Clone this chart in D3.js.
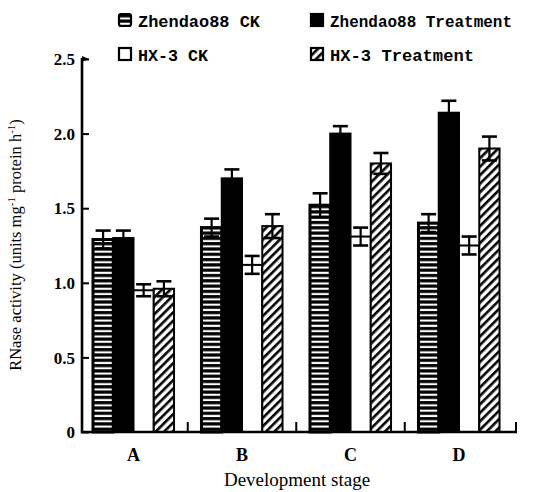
<!DOCTYPE html>
<html>
<head>
<meta charset="utf-8">
<script src="https://cdn.jsdelivr.net/npm/d3@7"></script>
<style>
  html, body { margin: 0; padding: 0; background: #fff; }
  svg { display: block; }
</style>
</head>
<body>
<div id="chart"></div>
<script>
// ---- data ----
const stages = ["A", "B", "C", "D"];
const seriesNames = ["Zhendao88 CK", "Zhendao88 Treatment", "HX-3 CK", "HX-3 Treatment"];
const zhendaoCK = [1.29, 1.37, 1.52, 1.40];
const zhendaoCKErr = [0.06, 0.06, 0.08, 0.06];
const zhendaoTreat = [1.30, 1.70, 2.00, 2.14];
const zhendaoTreatErr = [0.05, 0.06, 0.05, 0.08];
const hxCK = [0.95, 1.12, 1.31, 1.25];
const hxCKErr = [0.04, 0.06, 0.06, 0.06];
const hxTreat = [0.96, 1.38, 1.80, 1.90];
const hxTreatErr = [0.05, 0.08, 0.07, 0.08];
const yTicks = [0, 0.5, 1.0, 1.5, 2.0, 2.5];
const yTickLabels = ["0", "0.5", "1.0", "1.5", "2.0", "2.5"];

const values = [zhendaoCK, zhendaoTreat, hxCK, hxTreat];
const errors = [zhendaoCKErr, zhendaoTreatErr, hxCKErr, hxTreatErr];
const fills = ["url(#stripes)", "#000", "#fff", "url(#hatch)"];

const W = 533, H = 492;
const svg = d3.select("#chart").append("svg").attr("width", W).attr("height", H);

const defs = svg.append("defs");
const st = defs.append("pattern").attr("id", "stripes").attr("patternUnits", "userSpaceOnUse")
  .attr("width", 6).attr("height", 5.3);
st.append("rect").attr("width", 6).attr("height", 5.3).attr("fill", "#000");
st.append("rect").attr("y", 1.5).attr("width", 6).attr("height", 2.1).attr("fill", "#fff");

const ht = defs.append("pattern").attr("id", "hatch").attr("patternUnits", "userSpaceOnUse")
  .attr("width", 6).attr("height", 6).attr("patternTransform", "rotate(45)");
ht.append("rect").attr("width", 6).attr("height", 6).attr("fill", "#fff");
ht.append("rect").attr("x", 0).attr("width", 2.6).attr("height", 6).attr("fill", "#000");

// ---- scales ----
const x0 = 82, x1 = 516, yTop = 59, yBot = 432;
const x = d3.scaleBand().domain(stages).range([x0, x1]).paddingInner(0.253).paddingOuter(0.1265).align(0.4);
const xs = d3.scaleBand().domain(d3.range(4)).range([0, x.bandwidth()]).padding(0);
const y = d3.scaleLinear().domain([0, 2.5]).range([yBot, yTop]);

// ---- bars ----
const g = svg.append("g");
stages.forEach((s, i) => {
  for (let k = 0; k < 4; k++) {
    const v = values[k][i];
    const bx = x(s) + xs(k);
    g.append("rect")
      .attr("x", bx).attr("y", y(v))
      .attr("width", xs.bandwidth()).attr("height", y(0) - y(v))
      .attr("fill", fills[k]).attr("stroke", "#000")
      .attr("stroke-width", k === 0 ? 3 : 2);
  }
});
// error bars
stages.forEach((s, i) => {
  for (let k = 0; k < 4; k++) {
    const v = values[k][i], e = errors[k][i];
    const cx = x(s) + xs(k) + xs.bandwidth() / 2;
    g.append("line").attr("x1", cx).attr("x2", cx).attr("y1", y(v - e)).attr("y2", y(v + e))
      .attr("stroke", "#000").attr("stroke-width", 2.2);
    [v - e, v + e].forEach(t => {
      g.append("line").attr("x1", cx - 7.5).attr("x2", cx + 7.5).attr("y1", y(t)).attr("y2", y(t))
        .attr("stroke", "#000").attr("stroke-width", 2.6);
    });
  }
});

// ---- axes ----
const ax = svg.append("g");
ax.append("line").attr("x1", x0).attr("x2", x0).attr("y1", yTop - 1).attr("y2", yBot + 1.2)
  .attr("stroke", "#000").attr("stroke-width", 2.6);
ax.append("line").attr("x1", x0 - 1).attr("x2", x1 + 1).attr("y1", yBot).attr("y2", yBot)
  .attr("stroke", "#000").attr("stroke-width", 2.6);

const yAxis = d3.axisRight(y).tickValues(yTicks).tickSize(7).tickFormat("");
const yg = svg.append("g").attr("transform", `translate(${x0},0)`).call(yAxis);
yg.select(".domain").remove();
yg.selectAll(".tick line").attr("stroke", "#000").attr("stroke-width", 2);
svg.append("path").attr("d", `M${x0},${y(2.5) - 3} L${x0 + 7},${y(2.5)} L${x0},${y(2.5) + 3} Z`).attr("fill", "#000");

svg.append("g").selectAll("text").data(yTicks).join("text")
  .attr("x", x0 - 7).attr("y", d => y(d)).attr("dy", "0.36em")
  .attr("text-anchor", "end")
  .attr("font-family", "Liberation Serif, serif").attr("font-size", 17)
  .attr("font-weight", "bold")
  .text((d, i) => yTickLabels[i]);

// x separators
const seps = stages.slice(1).map(s => x(s) - x.step() * x.paddingInner() / 2).concat([x1]);
svg.append("g").selectAll("line").data(seps).join("line")
  .attr("x1", d => d).attr("x2", d => d).attr("y1", yBot).attr("y2", yBot - 10)
  .attr("stroke", "#000").attr("stroke-width", 2);

svg.append("g").selectAll("text").data(stages).join("text")
  .attr("x", d => x(d) + x.bandwidth() / 2).attr("y", 461)
  .attr("text-anchor", "middle")
  .attr("font-family", "Liberation Serif, serif").attr("font-size", 18).attr("font-weight", "bold")
  .text(d => d);

svg.append("text").attr("x", 297).attr("y", 486).attr("text-anchor", "middle")
  .attr("font-family", "Liberation Serif, serif").attr("font-size", 19)
  .text("Development stage");

const yt = svg.append("text").attr("transform", "translate(21,245) rotate(-90)")
  .attr("text-anchor", "middle")
  .attr("font-family", "Liberation Serif, serif").attr("font-size", 16.5);
yt.append("tspan").text("RNase activity (units mg");
yt.append("tspan").attr("baseline-shift", "super").attr("font-size", 11).text("-1");
yt.append("tspan").text(" protein h");
yt.append("tspan").attr("baseline-shift", "super").attr("font-size", 11).text("-1");
yt.append("tspan").text(")");

// ---- legend ----
const legendPos = [[118, 13], [310, 13], [118, 47], [310, 47]];
const legendTextLen = [122, 182, 70, 144];
const leg = svg.append("g");
legendPos.forEach((p, k) => {
  leg.append("rect").attr("x", p[0] + 1).attr("y", p[1] + 1).attr("width", 12).attr("height", 12)
    .attr("rx", k === 0 ? 2 : 0)
    .attr("fill", fills[k]).attr("stroke", "#000").attr("stroke-width", 2.2);
  leg.append("text").attr("x", p[0] + 20).attr("y", p[1] + 14)
    .attr("font-family", "Liberation Mono, monospace").attr("font-size", 17)
    .attr("font-weight", "bold")
    .attr("textLength", legendTextLen[k]).attr("lengthAdjust", "spacingAndGlyphs")
    .text(seriesNames[k]);
});
</script>
</body>
</html>
